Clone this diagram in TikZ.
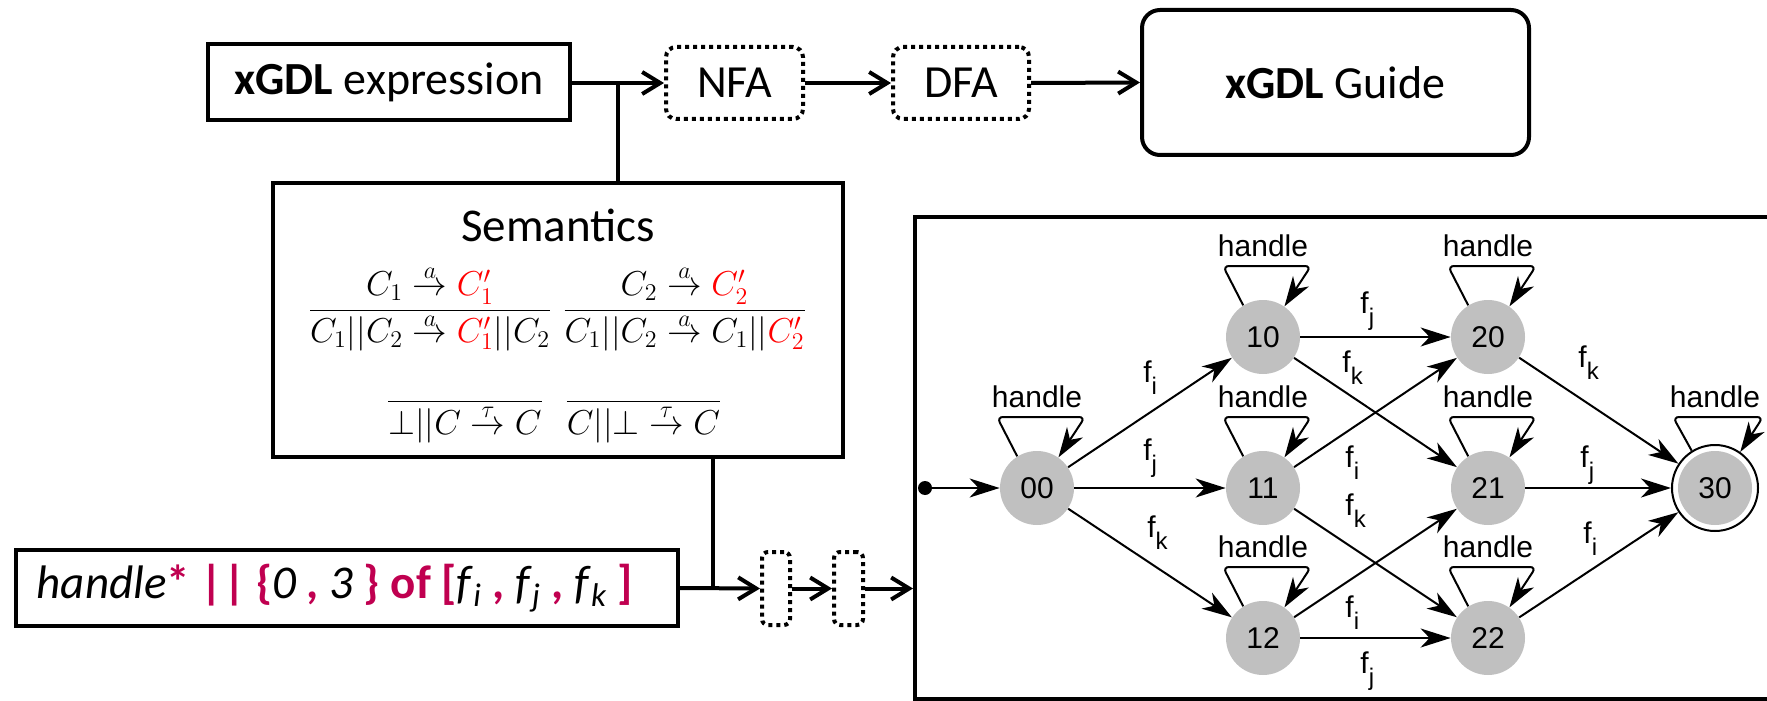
\documentclass[tikz,border=0pt]{standalone}
\usepackage{fontspec}
\setmainfont{Carlito}
\newfontfamily\arialfont{Liberation Sans}
\usetikzlibrary{arrows.meta,calc}

\definecolor{mag}{RGB}{192,0,80}
\definecolor{stategray}{RGB}{192,192,192}

% highlighted operator in the xGDL expression
\newcommand{\op}[1]{\textcolor{mag}{\textbf{#1}}}
% transition label: f with a lowered index
\newcommand{\fl}[1]{f\raisebox{-6pt}{\fontsize{12}{12}\selectfont #1}}

\tikzset{
  box/.style={draw, line width=2pt, inner sep=0pt, align=center},
  dotbox/.style={draw, line width=2pt, dash pattern=on 2pt off 2pt,
                 rounded corners=5pt, inner sep=0pt},
  flow/.style={line width=2pt, -{Straight Barb[length=9pt,width=11pt]}},
  plain/.style={line width=2pt},
  toptext/.style={font=\fontsize{23}{26}\selectfont},
  infer/.style={inner sep=0pt, font=\fontsize{17}{20}\selectfont},
  state/.style={circle, fill=stategray, minimum size=37pt, inner sep=0pt,
                font=\arialfont\fontsize{15}{15}\selectfont},
  aedge/.style={line width=1pt, -{Stealth[length=15pt,width=9.5pt,inset=4.5pt]}},
  loopedge/.style={aedge, rounded corners=3pt},
  lbl/.style={font=\arialfont\fontsize{15}{15}\selectfont, inner sep=0pt,
              anchor=base west},
  looplbl/.style={font=\arialfont\fontsize{15}{15}\selectfont, inner sep=0pt},
}

% self loop drawn above a state
\newcommand{\selfloop}[3]{%
  \draw[loopedge] (#1.122) -- ([shift={(#2,-71)}]#1.center)
                  -- ([shift={(#3,-71)}]#1.center) -- (#1.55);}

\begin{document}
\begin{tikzpicture}[x=0.5pt,y=-0.5pt]
\useasboundingbox (0,0) rectangle (1767,701);
\clip (0,0) rectangle (1767,701);

% ---------- top pipeline ----------
\node[box, toptext, minimum width=181pt, minimum height=38pt] (expr)
      at (389,82) {\textbf{xGDL} expression};
\node[dotbox, toptext, minimum width=68.5pt, minimum height=36pt] (nfa)
      at (734.5,83) {NFA};
\node[dotbox, toptext, minimum width=68pt, minimum height=36pt] (dfa)
      at (961,83) {DFA};
\node[box, toptext, rounded corners=9pt, minimum width=193.5pt,
      minimum height=72.5pt] (guide) at (1335.5,82.5) {\textbf{xGDL} Guide};

\coordinate (j1) at (618,83);
\draw[flow] (expr.east |- j1) -- (nfa.west);
\draw[flow] (nfa.east) -- (dfa.west);
\draw[flow] (dfa.east) -- (guide.west);

% ---------- semantics ----------
\node[box, minimum width=285pt, minimum height=137pt] (sem) at (558,320) {};
\draw[plain] (j1) -- (j1 |- sem.north);
\node[font=\fontsize{23.5}{26}\selectfont, inner sep=0pt] (semtitle)
      at (558,225) {Semantics};
\node[infer] (r1) at (430,309)
  {$\displaystyle\frac{C_1 \stackrel{a}{\to} {\color{red}C_1'}}
                      {C_1||C_2 \stackrel{a}{\to} {\color{red}C_1'}||C_2}$};
\node[infer] (r2) at (684.5,309)
  {$\displaystyle\frac{C_2 \stackrel{a}{\to} {\color{red}C_2'}}
                      {C_1||C_2 \stackrel{a}{\to} C_1||{\color{red}C_2'}}$};
\node[infer] (r3) at (465,415)
  {$\displaystyle\frac{}{\bot||C \stackrel{\tau}{\to} C}$};
\node[infer] (r4) at (643.5,415)
  {$\displaystyle\frac{}{C||\bot \stackrel{\tau}{\to} C}$};

% ---------- expression and automaton ----------
\node[box, minimum width=331pt, minimum height=38pt,
      font=\fontsize{23.5}{26}\selectfont] (hexpr) at (347,588)
  {\textit{handle}\op{*} \op{||} \op{\{}\textit{0} \op{,} \textit{3} \op{\}}
   \op{of} \op{[}\textit{f}\textsubscript{\textit{i}} \op{,}
   \textit{f}\textsubscript{\textit{j}} \op{,}
   \textit{f}\textsubscript{\textit{k}} \op{]}\hspace*{12pt}};
\node[dotbox, rounded corners=3pt, minimum width=14pt, minimum height=36.5pt]
      (b1) at (776,588.5) {};
\node[dotbox, rounded corners=3pt, minimum width=14.5pt, minimum height=36.5pt]
      (b2) at (848.5,588.5) {};
\node[box, minimum width=492.5pt, minimum height=241pt] (auto)
      at (1407.5,458) {};

\coordinate (j2) at (713,588);
\draw[plain] (sem.south -| j2) -- (j2);
\draw[flow] (hexpr.east) -- (b1.west);
\draw[flow] (b1.east) -- (b2.west);
\draw[flow] (b2.east) -- (b2.east -| auto.west);

% states
\node[state] (s00) at (1037,488) {00};
\node[state] (s10) at (1263,337) {10};
\node[state] (s11) at (1263,488) {11};
\node[state] (s12) at (1263,638) {12};
\node[state] (s20) at (1488,337) {20};
\node[state] (s21) at (1488,488) {21};
\node[state] (s22) at (1488,638) {22};
\node[circle, draw, line width=1pt, fill=white, minimum size=43pt, inner sep=0pt,
      font=\arialfont\fontsize{15}{15}\selectfont,
      path picture={\fill[stategray] (path picture bounding box.center)
                    circle (18.5pt);}] (s30) at (1715,488) {30};

% initial marker
\coordinate (init) at (925,488);
\fill (init) circle (3.5pt);
\draw[aedge] (init) -- (s00);

% transitions
\draw[aedge] (s00) -- (s10);
\draw[aedge] (s00) -- (s11);
\draw[aedge] (s00) -- (s12);
\draw[aedge] (s10) -- (s20);
\draw[aedge] (s10) -- (s21);
\draw[aedge] (s11) -- (s20);
\draw[aedge] (s11) -- (s22);
\draw[aedge] (s12) -- (s21);
\draw[aedge] (s12) -- (s22);
\draw[aedge] (s20) -- (s30);
\draw[aedge] (s21) -- (s30);
\draw[aedge] (s22) -- (s30);

% self loops
\foreach \s in {s00,s10,s11,s12,s20,s21,s22}{\selfloop{\s}{-40}{48}}
\selfloop{s30}{-42}{48}

% loop labels
\foreach \s/\n in {s00/l00,s10/l10,s11/l11,s12/l12,s20/l20,s21/l21,s22/l22,s30/l30}
  {\node[looplbl] (\n) at ([shift={(0,-91)}]\s.center) {handle};}

% transition labels
\node[lbl] (t1)  at (1143,382) {\fl{i}};
\node[lbl] (t2)  at (1143,460) {\fl{j}};
\node[lbl] (t3)  at (1147,537) {\fl{k}};
\node[lbl] (t4)  at (1360,313) {\fl{j}};
\node[lbl] (t5)  at (1342,372) {\fl{k}};
\node[lbl] (t6)  at (1345,467) {\fl{i}};
\node[lbl] (t7)  at (1345,515) {\fl{k}};
\node[lbl] (t8)  at (1345,617) {\fl{i}};
\node[lbl] (t9)  at (1360,673) {\fl{j}};
\node[lbl] (t10) at (1578,367) {\fl{k}};
\node[lbl] (t11) at (1580,467) {\fl{j}};
\node[lbl] (t12) at (1583,543) {\fl{i}};
\end{tikzpicture}
\end{document}
